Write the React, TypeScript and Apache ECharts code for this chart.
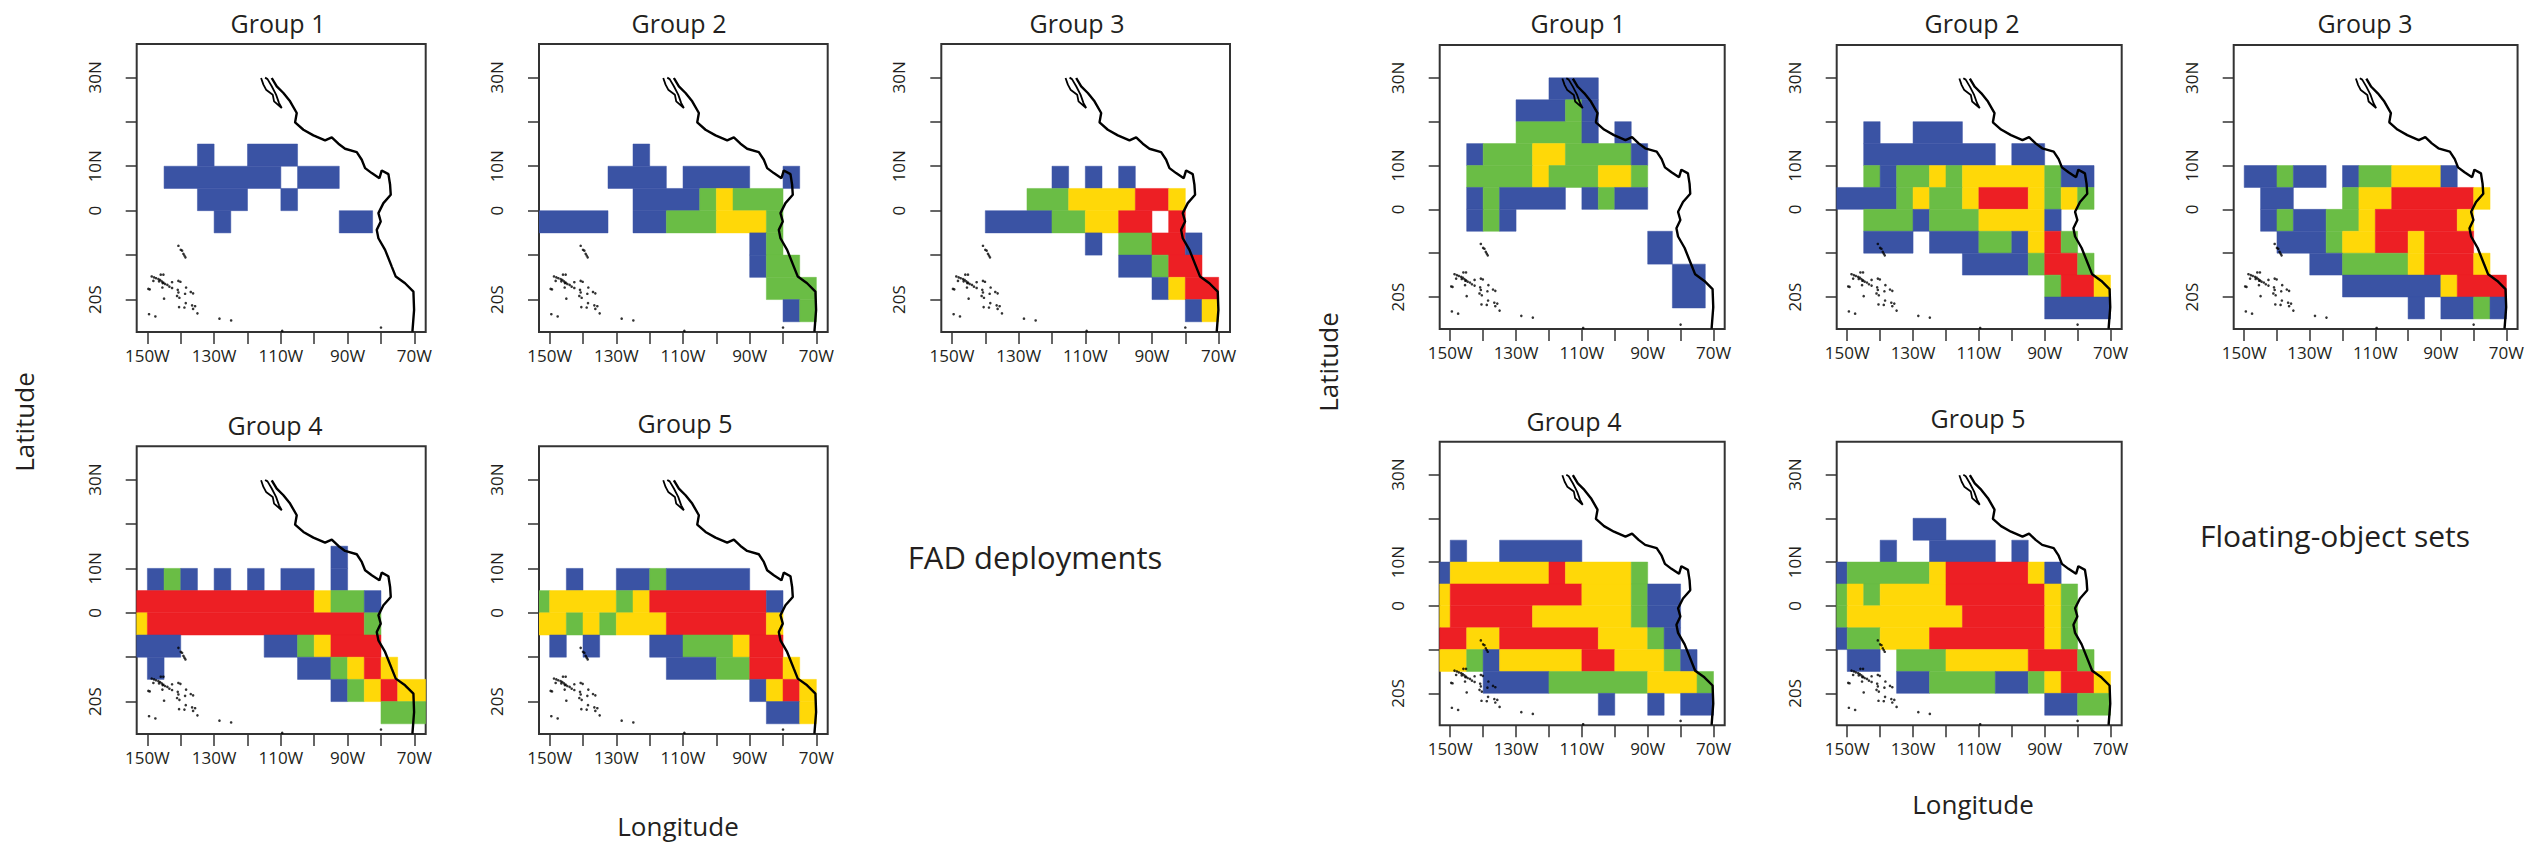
import React, { useEffect, useRef } from "react";
import * as echarts from "echarts";

const LON_MIN = -153.2;
const LON_MAX = -66.6;
const LAT_MIN = -27.3;
const LAT_MAX = 37.5;
const W = LON_MIN;
const E = LON_MAX;

const LEVEL_COLORS = ["", "#3A53A4", "#6ABD45", "#FFD808", "#ED1F24"];
const LON_TICKS = [-150, -140, -130, -120, -110, -100, -90, -80, -70];
const LON_LABELS = [-150, -130, -110, -90, -70];
const LAT_TICKS = [30, 20, 10, 0, -10, -20];
const LAT_LABELS = [30, 10, 0, -20];

// [lonWest, lonEast, latSouth, latNorth, level]
const fadGroup1 = [
  [-135, -130, 10, 15, 1], [-120, -105, 10, 15, 1],
  [-145, -110, 5, 10, 1], [-105, -92.5, 5, 10, 1],
  [-135, -120, 0, 5, 1], [-110, -105, 0, 5, 1],
  [-130, -125, -5, 0, 1], [-92.5, -82.5, -5, 0, 1],
];
const fadGroup2 = [
  [-125, -120, 10, 15, 1],
  [-132.5, -115, 5, 10, 1], [-110, -90, 5, 10, 1], [-80, -75, 5, 10, 1],
  [-125, -105, 0, 5, 1], [-105, -100, 0, 5, 2], [-100, -95, 0, 5, 3], [-95, -80, 0, 5, 2],
  [W, -132.5, -5, 0, 1], [-125, -115, -5, 0, 1], [-115, -100, -5, 0, 2], [-100, -85, -5, 0, 3], [-85, -80, -5, 0, 2],
  [-90, -85, -10, -5, 1], [-85, -80, -10, -5, 2],
  [-90, -85, -15, -10, 1], [-85, -75, -15, -10, 2],
  [-85, -70, -20, -15, 2],
  [-80, -75, -25, -20, 1], [-75, -70, -25, -20, 2],
];
const fadGroup3 = [
  [-120, -115, 5, 10, 1], [-110, -105, 5, 10, 1], [-100, -95, 5, 10, 1],
  [-127.5, -115, 0, 5, 2], [-115, -95, 0, 5, 3], [-95, -85, 0, 5, 4], [-85, -80, 0, 5, 3],
  [-140, -120, -5, 0, 1], [-120, -110, -5, 0, 2], [-110, -100, -5, 0, 3], [-100, -90, -5, 0, 4], [-85, -80, -5, 0, 4],
  [-110, -105, -10, -5, 1], [-100, -90, -10, -5, 2], [-90, -80, -10, -5, 4], [-80, -75, -10, -5, 1],
  [-100, -90, -15, -10, 1], [-90, -85, -15, -10, 2], [-85, -75, -15, -10, 4],
  [-90, -85, -20, -15, 1], [-85, -80, -20, -15, 3], [-80, -70, -20, -15, 4],
  [-80, -75, -25, -20, 1], [-75, -70, -25, -20, 3],
];
const fadGroup4 = [
  [-95, -90, 10, 15, 1],
  [-150, -145, 5, 10, 1], [-145, -140, 5, 10, 2], [-140, -135, 5, 10, 1], [-130, -125, 5, 10, 1], [-120, -115, 5, 10, 1], [-110, -100, 5, 10, 1], [-95, -90, 5, 10, 1],
  [W, -100, 0, 5, 4], [-100, -95, 0, 5, 3], [-95, -85, 0, 5, 2], [-85, -80, 0, 5, 1],
  [W, -150, -5, 0, 3], [-150, -85, -5, 0, 4], [-85, -80, -5, 0, 2],
  [W, -140, -10, -5, 1], [-115, -105, -10, -5, 1], [-105, -100, -10, -5, 2], [-100, -95, -10, -5, 3], [-95, -80, -10, -5, 4],
  [-150, -145, -15, -10, 1], [-105, -95, -15, -10, 1], [-95, -90, -15, -10, 2], [-90, -85, -15, -10, 3], [-85, -80, -15, -10, 4], [-80, -75, -15, -10, 3],
  [-95, -90, -20, -15, 1], [-90, -85, -20, -15, 2], [-85, -80, -20, -15, 3], [-80, -75, -20, -15, 4], [-75, E, -20, -15, 3],
  [-80, E, -25, -20, 2],
];
const fadGroup5 = [
  [-145, -140, 5, 10, 1], [-130, -120, 5, 10, 1], [-120, -115, 5, 10, 2], [-115, -90, 5, 10, 1],
  [W, -150, 0, 5, 2], [-150, -130, 0, 5, 3], [-130, -125, 0, 5, 2], [-125, -120, 0, 5, 3], [-120, -85, 0, 5, 4], [-85, -80, 0, 5, 1],
  [W, -145, -5, 0, 3], [-145, -140, -5, 0, 2], [-140, -135, -5, 0, 3], [-135, -130, -5, 0, 2], [-130, -115, -5, 0, 3], [-115, -85, -5, 0, 4], [-85, -80, -5, 0, 3],
  [-150, -145, -10, -5, 1], [-140, -135, -10, -5, 1], [-120, -110, -10, -5, 1], [-110, -95, -10, -5, 2], [-95, -90, -10, -5, 3], [-90, -80, -10, -5, 4],
  [-115, -100, -15, -10, 1], [-100, -90, -15, -10, 2], [-90, -80, -15, -10, 4], [-80, -75, -15, -10, 3],
  [-90, -85, -20, -15, 1], [-85, -80, -20, -15, 3], [-80, -75, -20, -15, 4], [-75, -70, -20, -15, 3],
  [-85, -75, -25, -20, 1], [-75, -70, -25, -20, 3],
];
const setGroup1 = [
  [-120, -105, 25, 30, 1],
  [-130, -115, 20, 25, 1], [-115, -110, 20, 25, 2], [-110, -105, 20, 25, 1],
  [-130, -110, 15, 20, 2], [-110, -105, 15, 20, 1], [-100, -95, 15, 20, 1],
  [-145, -140, 10, 15, 1], [-140, -125, 10, 15, 2], [-125, -115, 10, 15, 3], [-115, -95, 10, 15, 2], [-95, -90, 10, 15, 1],
  [-145, -125, 5, 10, 2], [-125, -120, 5, 10, 3], [-120, -105, 5, 10, 2], [-105, -95, 5, 10, 3], [-95, -90, 5, 10, 2],
  [-145, -140, 0, 5, 1], [-140, -135, 0, 5, 2], [-135, -115, 0, 5, 1], [-110, -105, 0, 5, 1], [-105, -100, 0, 5, 2], [-100, -90, 0, 5, 1],
  [-145, -140, -5, 0, 1], [-140, -135, -5, 0, 2], [-135, -130, -5, 0, 1],
  [-90, -82.5, -12.5, -5, 1],
  [-82.5, -72.5, -22.5, -12.5, 1],
];
const setGroup2 = [
  [-145, -140, 15, 20, 1], [-130, -115, 15, 20, 1],
  [-145, -105, 10, 15, 1], [-100, -90, 10, 15, 1],
  [-145, -140, 5, 10, 2], [-140, -135, 5, 10, 1], [-135, -125, 5, 10, 2], [-125, -120, 5, 10, 3], [-120, -115, 5, 10, 2], [-115, -90, 5, 10, 3], [-90, -85, 5, 10, 2], [-85, -75, 5, 10, 1],
  [W, -135, 0, 5, 1], [-135, -130, 0, 5, 2], [-130, -125, 0, 5, 3], [-125, -115, 0, 5, 2], [-115, -110, 0, 5, 3], [-110, -95, 0, 5, 4], [-95, -90, 0, 5, 3], [-90, -85, 0, 5, 2], [-85, -80, 0, 5, 3], [-80, -75, 0, 5, 2],
  [-145, -130, -5, 0, 2], [-130, -125, -5, 0, 1], [-125, -110, -5, 0, 2], [-110, -90, -5, 0, 3], [-90, -85, -5, 0, 1],
  [-145, -130, -10, -5, 1], [-125, -110, -10, -5, 1], [-110, -100, -10, -5, 2], [-100, -95, -10, -5, 1], [-95, -90, -10, -5, 3], [-90, -85, -10, -5, 4], [-85, -80, -10, -5, 2],
  [-115, -95, -15, -10, 1], [-95, -90, -15, -10, 2], [-90, -80, -15, -10, 4], [-80, -75, -15, -10, 2],
  [-90, -85, -20, -15, 2], [-85, -75, -20, -15, 4], [-75, -70, -20, -15, 3],
  [-90, -70, -25, -20, 1],
];
const setGroup3 = [
  [-150, -140, 5, 10, 1], [-140, -135, 5, 10, 2], [-135, -125, 5, 10, 1], [-120, -115, 5, 10, 1], [-115, -105, 5, 10, 2], [-105, -90, 5, 10, 3], [-90, -85, 5, 10, 1],
  [-145, -135, 0, 5, 1], [-120, -115, 0, 5, 2], [-115, -105, 0, 5, 3], [-105, -80, 0, 5, 4], [-80, -75, 0, 5, 3],
  [-145, -140, -5, 0, 1], [-140, -135, -5, 0, 2], [-135, -125, -5, 0, 1], [-125, -115, -5, 0, 2], [-115, -110, -5, 0, 3], [-110, -85, -5, 0, 4], [-85, -80, -5, 0, 3],
  [-140, -125, -10, -5, 1], [-125, -120, -10, -5, 2], [-120, -110, -10, -5, 3], [-110, -100, -10, -5, 4], [-100, -95, -10, -5, 3], [-95, -80, -10, -5, 4],
  [-130, -120, -15, -10, 1], [-120, -100, -15, -10, 2], [-100, -95, -15, -10, 3], [-95, -80, -15, -10, 4], [-80, -75, -15, -10, 3],
  [-120, -90, -20, -15, 1], [-90, -85, -20, -15, 3], [-85, -70, -20, -15, 4],
  [-100, -95, -25, -20, 1], [-90, -80, -25, -20, 1], [-80, -75, -25, -20, 2], [-75, -70, -25, -20, 1],
];
const setGroup4 = [
  [-150, -145, 10, 15, 1], [-135, -110, 10, 15, 1],
  [W, -150, 5, 10, 1], [-150, -120, 5, 10, 3], [-120, -115, 5, 10, 4], [-115, -95, 5, 10, 3], [-95, -90, 5, 10, 2],
  [W, -150, 0, 5, 3], [-150, -110, 0, 5, 4], [-110, -95, 0, 5, 3], [-95, -90, 0, 5, 2], [-90, -80, 0, 5, 1],
  [W, -150, -5, 0, 3], [-150, -125, -5, 0, 4], [-125, -95, -5, 0, 3], [-95, -90, -5, 0, 2], [-90, -80, -5, 0, 1],
  [W, -145, -10, -5, 4], [-145, -135, -10, -5, 3], [-135, -105, -10, -5, 4], [-105, -90, -10, -5, 3], [-90, -85, -10, -5, 2], [-85, -80, -10, -5, 1],
  [W, -145, -15, -10, 3], [-145, -140, -15, -10, 2], [-140, -135, -15, -10, 1], [-135, -110, -15, -10, 3], [-110, -100, -15, -10, 4], [-100, -85, -15, -10, 3], [-85, -80, -15, -10, 2], [-80, -75, -15, -10, 1],
  [-140, -120, -20, -15, 1], [-120, -90, -20, -15, 2], [-90, -75, -20, -15, 3], [-75, -70, -20, -15, 2],
  [-105, -100, -25, -20, 1], [-90, -85, -25, -20, 1], [-80, -70, -25, -20, 1],
];
const setGroup5 = [
  [-130, -120, 15, 20, 1],
  [-140, -135, 10, 15, 1], [-125, -105, 10, 15, 1], [-100, -95, 10, 15, 1],
  [W, -150, 5, 10, 1], [-150, -125, 5, 10, 2], [-125, -120, 5, 10, 3], [-120, -95, 5, 10, 4], [-95, -90, 5, 10, 3], [-90, -85, 5, 10, 1],
  [W, -150, 0, 5, 2], [-150, -145, 0, 5, 3], [-145, -140, 0, 5, 2], [-140, -120, 0, 5, 3], [-120, -90, 0, 5, 4], [-90, -85, 0, 5, 3], [-85, -80, 0, 5, 2],
  [W, -150, -5, 0, 2], [-150, -115, -5, 0, 3], [-115, -90, -5, 0, 4], [-90, -85, -5, 0, 3], [-85, -80, -5, 0, 2],
  [W, -150, -10, -5, 1], [-150, -140, -10, -5, 2], [-140, -125, -10, -5, 3], [-125, -90, -10, -5, 4], [-90, -85, -10, -5, 3], [-85, -80, -10, -5, 2],
  [-150, -140, -15, -10, 1], [-135, -120, -15, -10, 2], [-120, -95, -15, -10, 3], [-95, -80, -15, -10, 4], [-80, -75, -15, -10, 2],
  [-135, -125, -20, -15, 1], [-125, -105, -20, -15, 2], [-105, -95, -20, -15, 1], [-95, -90, -20, -15, 2], [-90, -85, -20, -15, 3], [-85, -75, -20, -15, 4], [-75, -70, -20, -15, 3],
  [-90, -80, -25, -20, 1], [-80, -70, -25, -20, 2],
];

// [lon, lat]
const coastMainland = [
  [-112.74, 29.85], [-111.24, 27.97], [-109.24, 26.47], [-107.24, 24.6], [-105.24, 21.97], [-105.74, 19.86],
  [-103.25, 18.21], [-100.25, 16.94], [-96.75, 15.81], [-94.75, 16.49], [-92.76, 15.06], [-90.76, 13.93],
  [-87.26, 13.18], [-85.76, 11.45], [-84.76, 9.58], [-82.77, 8.45], [-80.47, 7.32], [-79.77, 9.05],
  [-77.77, 8.22], [-77.27, 5.82], [-77.07, 3.57], [-79.27, 1.69], [-80.77, -0.56], [-80.07, -2.44],
  [-81.27, -4.32], [-80.77, -6.2], [-78.77, -8.82], [-76.77, -12.58], [-75.57, -14.83], [-72.78, -16.33],
  [-70.28, -18.21], [-70.08, -22.34], [-70.58, -27.22],
];
const coastBaja = [
  [-115.93, 29.85], [-115.23, 28.35], [-114.43, 27.22], [-112.44, 26.1], [-112.04, 24.6], [-109.74, 23.09],
  [-110.54, 24.2], [-111.44, 26.1], [-112.74, 28.0], [-114.0, 29.6], [-114.73, 29.93],
];
const islands = [
  [-140.7, -7.9], [-140.0, -8.8], [-139.6, -9.0], [-139.2, -9.7], [-138.9, -10.1], [-138.6, -10.5],
  [-148.7, -14.8], [-148.0, -15.0], [-147.4, -15.2], [-146.7, -15.4], [-146.2, -15.6], [-145.7, -15.9],
  [-145.2, -16.2], [-144.7, -16.5], [-144.0, -16.7], [-143.4, -17.1], [-146.0, -14.4], [-145.2, -14.4],
  [-146.5, -15.9], [-145.4, -16.3], [-148.2, -15.8], [-145.5, -17.3], [-142.6, -16.1], [-142.6, -17.4],
  [-140.7, -15.8], [-140.1, -16.0], [-138.4, -17.3], [-140.9, -17.8], [-140.7, -18.4], [-141.1, -19.2],
  [-140.4, -19.6], [-138.7, -18.7], [-137.0, -18.3], [-136.3, -18.6], [-145.0, -19.8], [-149.7, -17.6],
  [-149.3, -17.7], [-138.5, -20.8], [-140.5, -21.7], [-138.9, -21.8], [-136.6, -21.3], [-135.7, -21.5],
  [-136.3, -22.1], [-135.0, -23.1], [-149.5, -23.3], [-147.6, -23.8], [-128.4, -24.3], [-124.9, -24.7],
  [-109.6, -27.06], [-80.0, -26.3],
];

const panels = [
  { name: "Group 1", cells: fadGroup1, box: [136.7, 44, 289, 288], title: [278, 23] },
  { name: "Group 2", cells: fadGroup2, box: [539, 44, 288.7, 288], title: [679, 23] },
  { name: "Group 3", cells: fadGroup3, box: [941.3, 44, 288.7, 288], title: [1077, 23] },
  { name: "Group 4", cells: fadGroup4, box: [136.7, 446.3, 289, 287.7], title: [275, 425] },
  { name: "Group 5", cells: fadGroup5, box: [539, 446.3, 288.7, 287.7], title: [685, 423] },
  { name: "Group 1", cells: setGroup1, box: [1439.7, 45, 285, 284], title: [1578, 23] },
  { name: "Group 2", cells: setGroup2, box: [1836.7, 45, 285, 284], title: [1972, 23] },
  { name: "Group 3", cells: setGroup3, box: [2233.7, 45, 284.3, 284], title: [2365, 23] },
  { name: "Group 4", cells: setGroup4, box: [1439.7, 441.7, 285, 283.6], title: [1574, 421] },
  { name: "Group 5", cells: setGroup5, box: [1836.7, 441.7, 285, 283.6], title: [1978, 418] },
];

const FONT = "'Open Sans', sans-serif";
const INK = "#231F20";

const lonLabel = (v: number) => `${Math.abs(v)}W`;
const latLabel = (v: number) => (v === 0 ? "0" : v > 0 ? `${v}N` : `${-v}S`);

function buildOption() {
  const grid: any[] = [];
  const xAxis: any[] = [];
  const yAxis: any[] = [];
  const series: any[] = [];
  const title: any[] = [];
  panels.forEach((p, i) => {
    grid.push({
      left: p.box[0], top: p.box[1], width: p.box[2], height: p.box[3],
      show: true, borderColor: "#333", borderWidth: 2, backgroundColor: "transparent",
    });
    xAxis.push({
      type: "value", gridIndex: i, position: "bottom", min: LON_MIN, max: LON_MAX, splitLine: { show: false },
      axisLine: { show: false, onZero: false },
      axisTick: { show: true, length: 12, customValues: LON_TICKS, lineStyle: { color: "#333", width: 1.5 } },
      axisLabel: {
        show: true, customValues: LON_LABELS, formatter: lonLabel, margin: 15,
        color: INK, fontFamily: FONT, fontSize: 17,
      },
    });
    yAxis.push({
      type: "value", gridIndex: i, position: "left", min: LAT_MIN, max: LAT_MAX, splitLine: { show: false },
      axisLine: { show: false, onZero: false },
      axisTick: { show: true, length: 11, customValues: LAT_TICKS, lineStyle: { color: "#333", width: 1.5 } },
      axisLabel: {
        show: true, customValues: LAT_LABELS, formatter: latLabel, margin: 34, rotate: 90,
        color: INK, fontFamily: FONT, fontSize: 17,
      },
    });
    title.push({
      text: p.name, left: p.title[0], top: p.title[1], textAlign: "center", textVerticalAlign: "middle",
      padding: 0, textStyle: { color: INK, fontFamily: FONT, fontSize: 25, fontWeight: "normal" },
    });
    series.push({
      type: "custom", xAxisIndex: i, yAxisIndex: i, clip: true, z: 2, silent: true,
      encode: { x: [0, 1], y: [2, 3] },
      data: p.cells,
      renderItem: (_: any, api: any) => {
        const a = api.coord([api.value(0), api.value(3)]);
        const b = api.coord([api.value(1), api.value(2)]);
        const fill = LEVEL_COLORS[api.value(4)];
        return {
          type: "rect",
          shape: { x: a[0], y: a[1], width: b[0] - a[0], height: b[1] - a[1] },
          style: { fill, stroke: fill, lineWidth: 0.5 },
        };
      },
    });
    [coastMainland, coastBaja].forEach((line, k) => {
      series.push({
        type: "line", xAxisIndex: i, yAxisIndex: i, data: line, showSymbol: false, symbol: "none",
        lineStyle: { color: "#000", width: k === 0 ? 2.4 : 1.8 }, z: 3, silent: true, clip: true,
      });
    });
    series.push({
      type: "scatter", xAxisIndex: i, yAxisIndex: i, data: islands, symbolSize: 2.6,
      itemStyle: { color: "#000" }, z: 4, silent: true,
    });
  });
  const note = (text: string, x: number, y: number, size: number, rotation = 0) => ({
    type: "text", x, y, rotation,
    style: { text, fill: INK, font: `${size}px ${FONT}`, textAlign: "center", textVerticalAlign: "middle" },
  });
  return {
    animation: false,
    backgroundColor: "#fff",
    title, grid, xAxis, yAxis, series,
    graphic: [
      note("Latitude", 24, 422, 26, Math.PI / 2),
      note("Latitude", 1328, 362, 26, Math.PI / 2),
      note("Longitude", 678, 826, 26),
      note("Longitude", 1973, 804, 26),
      note("FAD deployments", 1035, 557, 31),
      note("Floating-object sets", 2335, 535, 30),
    ],
  };
}

export default function App() {
  const ref = useRef<HTMLDivElement>(null);
  useEffect(() => {
    const chart = echarts.init(ref.current!, undefined, { renderer: "svg" });
    chart.setOption(buildOption() as any);
    return () => chart.dispose();
  }, []);
  return <div ref={ref} style={{ position: "fixed", left: 0, top: 0, width: 2527, height: 846 }} />;
}
